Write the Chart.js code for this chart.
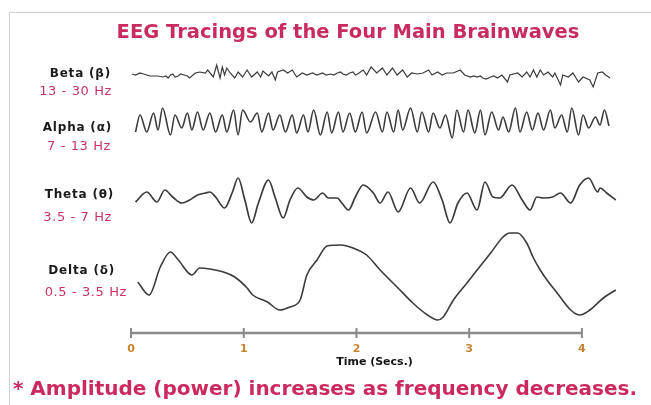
<!DOCTYPE html>
<html><head><meta charset="utf-8">
<script src="https://cdn.jsdelivr.net/npm/chart.js@4/dist/chart.umd.min.js"></script>
<style>
html,body{margin:0;padding:0;background:#fff;}
#wrap{position:relative;width:651px;height:405px;overflow:hidden;background:#fff;}
#frame{position:absolute;left:9px;top:12px;width:700px;height:500px;border-left:1px solid #d2d2d2;border-top:1px solid #d2d2d2;}
canvas{position:absolute;left:0;top:0;}
.t{position:absolute;white-space:nowrap;line-height:1;transform:translateY(-50%);}
.ttl{font-family:"DejaVu Sans";font-weight:bold;color:#c92b60;}
.nm{font-family:"DejaVu Sans";font-weight:bold;font-size:12px;letter-spacing:0.8px;color:#1a1a1a;}
.hz{font-family:"DejaVu Sans";font-size:13px;letter-spacing:0.6px;color:#c8336a;}
</style>
</head><body>
<div id="wrap">
<div id="frame"></div>
<canvas id="c" width="651" height="405"></canvas>
<div class="t ttl" style="left:348px;top:32px;font-size:19.5px;transform:translate(-50%,-50%);">EEG Tracings of the Four Main Brainwaves</div>
<div class="t ttl" style="left:325px;top:388px;font-size:20px;transform:translate(-50%,-50%);color:#cc2a5e;">* Amplitude (power) increases as frequency decreases.</div>
<div class="t nm" style="right:540px;top:73px;">Beta (β)</div>
<div class="t hz" style="right:539px;top:90px;">13 - 30 Hz</div>
<div class="t nm" style="right:539px;top:127px;">Alpha (α)</div>
<div class="t hz" style="right:540px;top:145px;">7 - 13 Hz</div>
<div class="t nm" style="right:537px;top:194px;">Theta (θ)</div>
<div class="t hz" style="right:539px;top:216px;">3.5 - 7 Hz</div>
<div class="t nm" style="right:536px;top:270px;">Delta (δ)</div>
<div class="t hz" style="right:524px;top:291px;">0.5 - 3.5 Hz</div>
</div>
<script>
// ---- data (time in seconds, amplitude in arbitrary units) ----
const timeTicks = [0, 1, 2, 3, 4];

const betaT = [0.01,0.04,0.08,0.11,0.14,0.17,0.20,0.24,0.28,0.31,
  0.33,0.35,0.37,0.39,0.42,0.44,0.47,0.50,0.52,0.57,
  0.61,0.66,0.68,0.73,0.76,0.79,0.81,0.83,0.85,0.88,
  0.92,0.95,0.99,1.03,1.07,1.12,1.15,1.17,1.22,1.25,
  1.28,1.30,1.35,1.39,1.43,1.47,1.52,1.56,1.61,1.65,
  1.70,1.73,1.77,1.80,1.83,1.86,1.88,1.91,1.94,1.97,
  1.99,2.01,2.06,2.09,2.13,2.18,2.23,2.27,2.32,2.36,
  2.41,2.45,2.49,2.54,2.59,2.64,2.67,2.72,2.76,2.80,
  2.86,2.92,2.96,3.01,3.04,3.07,3.10,3.12,3.15,3.19,
  3.22,3.25,3.29,3.34,3.36,3.43,3.47,3.51,3.54,3.57,
  3.60,3.63,3.66,3.70,3.74,3.76,3.81,3.83,3.88,3.92,
  3.97,4.01,4.07,4.10,4.14,4.18,4.21,4.25];
const betaV = [1,0,2,1,0,-1,-1,-1,-2,-1,
  -3,0,1,-2,-1,1,0,-1,-3,2,
  3,2,5,-2,10,-3,8,0,7,2,
  -3,3,-2,5,-2,3,-2,4,-1,3,
  -5,3,5,2,5,-2,2,0,2,0,
  2,0,1,0,2,3,1,0,2,3,
  0,1,5,0,8,2,7,0,7,0,
  5,-2,2,1,2,5,0,3,0,2,
  2,5,0,-2,-1,-2,-1,-3,-4,-2,
  -1,-3,0,-7,0,2,-2,3,-2,5,
  -2,5,0,3,-2,2,-10,0,-2,2,
  -7,-2,-5,-12,2,3,0,-3];

const alphaT = [0.04,0.08,0.14,0.20,0.24,0.28,0.35,0.39,0.45,0.50,0.54,0.59,0.64,0.70,0.75,0.81,0.85,0.91,0.95,0.99,1.06,1.12,1.16,1.22,1.26,1.32,1.37,1.43,1.47,1.53,1.57,1.62,1.68,1.74,1.78,1.84,1.88,1.94,1.99,2.05,2.09,2.17,2.23,2.27,2.33,2.37,2.41,2.48,2.54,2.58,2.64,2.68,2.74,2.79,2.85,2.89,2.95,2.99,3.05,3.10,3.14,3.20,3.26,3.30,3.35,3.41,3.45,3.51,3.56,3.61,3.66,3.72,3.76,3.82,3.87,3.91,3.97,4.01,4.06,4.12,4.16,4.20,4.24];
const alphaV = [-10,7,-10,9,-8,14,-13,7,-6,9,-8,10,-8,9,-10,7,-10,12,-13,12,0,9,-10,9,-8,7,-10,7,-11,7,-10,12,-13,10,-11,10,-10,9,-10,10,-11,10,-10,10,-10,12,-8,14,-10,10,-10,9,-6,7,-16,12,-10,12,-11,12,-13,10,-8,5,-10,14,-10,10,-8,9,-8,12,-6,7,-10,14,-13,7,-6,5,-3,12,-4];

const thetaT = [0.04,0.14,0.23,0.30,0.37,0.45,0.52,0.59,0.66,0.70,0.75,0.83,0.90,0.95,1.01,1.07,1.13,1.22,1.28,1.35,1.41,1.48,1.56,1.62,1.70,1.75,1.83,1.87,1.93,1.99,2.06,2.15,2.21,2.28,2.37,2.48,2.56,2.68,2.76,2.83,2.90,2.98,3.07,3.14,3.21,3.27,3.38,3.47,3.54,3.60,3.66,3.74,3.81,3.90,3.98,4.06,4.14,4.16,4.22,4.30];
const thetaV = [-4,6,-4,8,1,-5,-2,3,5,6,1,-10,6,20,-2,-25,-5,18,0,-20,-2,10,1,-2,5,0,0,-5,-12,1,13,5,-5,6,-14,10,-5,16,-2,-25,-5,5,-12,16,1,0,13,-2,-12,1,0,1,5,-5,13,20,6,10,5,-2];

const deltaT = [0.06,0.16,0.26,0.35,0.42,0.54,0.61,0.70,0.82,0.92,1.03,1.08,1.21,1.32,1.41,1.50,1.56,1.65,1.74,1.86,1.97,2.09,2.21,2.36,2.50,2.63,2.72,2.77,2.86,2.98,3.07,3.19,3.30,3.36,3.43,3.51,3.57,3.63,3.69,3.78,3.90,3.98,4.07,4.19,4.30];
const deltaV = [-7,-20,8,23,15,0,7,6,3,-2,-13,-20,-27,-35,-32,-25,0,15,29,30,27,20,5,-12,-28,-40,-45,-42,-25,-8,5,22,38,42,42,32,17,5,-5,-18,-35,-40,-35,-23,-15];

// ---- layout constants (trace baselines on the shared vertical scale) ----
const BASE = { beta: 257, alpha: 210, theta: 134, delta: 57 };

function trace(t, v, base, width, smooth) {
  return {
    data: t.map((x, i) => ({ x: x, y: base + v[i] })),
    borderColor: '#3b3b3b',
    borderWidth: width,
    pointRadius: 0,
    fill: false,
    tension: smooth ? 0.4 : 0,
    cubicInterpolationMode: smooth ? 'monotone' : 'default'
  };
}

const axisPlugin = {
  id: 'rulerAxis',
  afterDatasetsDraw(chart) {
    const { ctx, chartArea } = chart;
    const x = chart.scales.x;
    const y = chartArea.bottom + 1;
    ctx.save();
    ctx.strokeStyle = '#8a8a8a';
    ctx.lineWidth = 2.5;
    ctx.beginPath();
    ctx.moveTo(x.getPixelForValue(timeTicks[0]), y);
    ctx.lineTo(x.getPixelForValue(timeTicks[timeTicks.length - 1]), y);
    ctx.stroke();
    ctx.lineWidth = 2;
    timeTicks.forEach(v => {
      const px = x.getPixelForValue(v);
      ctx.beginPath();
      ctx.moveTo(px, y - 5);
      ctx.lineTo(px, y + 5);
      ctx.stroke();
    });
    ctx.restore();
  }
};

new Chart(document.getElementById('c'), {
  type: 'line',
  data: {
    datasets: [
      trace(betaT, betaV, BASE.beta, 1.2, false),
      trace(alphaT, alphaV, BASE.alpha, 1.6, true),
      trace(thetaT, thetaV, BASE.theta, 1.7, true),
      trace(deltaT, deltaV, BASE.delta, 1.6, true)
    ]
  },
  options: {
    responsive: false,
    animation: false,
    layout: { padding: { left: 131, right: 33, top: 50, bottom: 33 } },
    plugins: { legend: { display: false }, title: { display: false }, tooltip: { enabled: false } },
    scales: {
      x: {
        type: 'linear', min: 0, max: 4.32,
        afterBuildTicks: s => { s.ticks = timeTicks.map(v => ({ value: v })); },
        afterFit: s => { s.height = 40; },
        grid: { display: true, drawOnChartArea: false, drawTicks: true, tickLength: 6, color: 'rgba(0,0,0,0)' },
        border: { display: false },
        ticks: { color: '#c8842c', font: { family: 'DejaVu Sans', size: 11, weight: 'bold' }, padding: 5, maxRotation: 0, autoSkip: false },
        title: { display: true, text: 'Time (Secs.)', color: '#151515', font: { family: 'DejaVu Sans', size: 11, weight: 'bold' }, padding: { top: 0, bottom: 3 } }
      },
      y: { display: false, min: 0, max: 282 }
    }
  },
  plugins: [axisPlugin]
});
</script>
</body></html>
